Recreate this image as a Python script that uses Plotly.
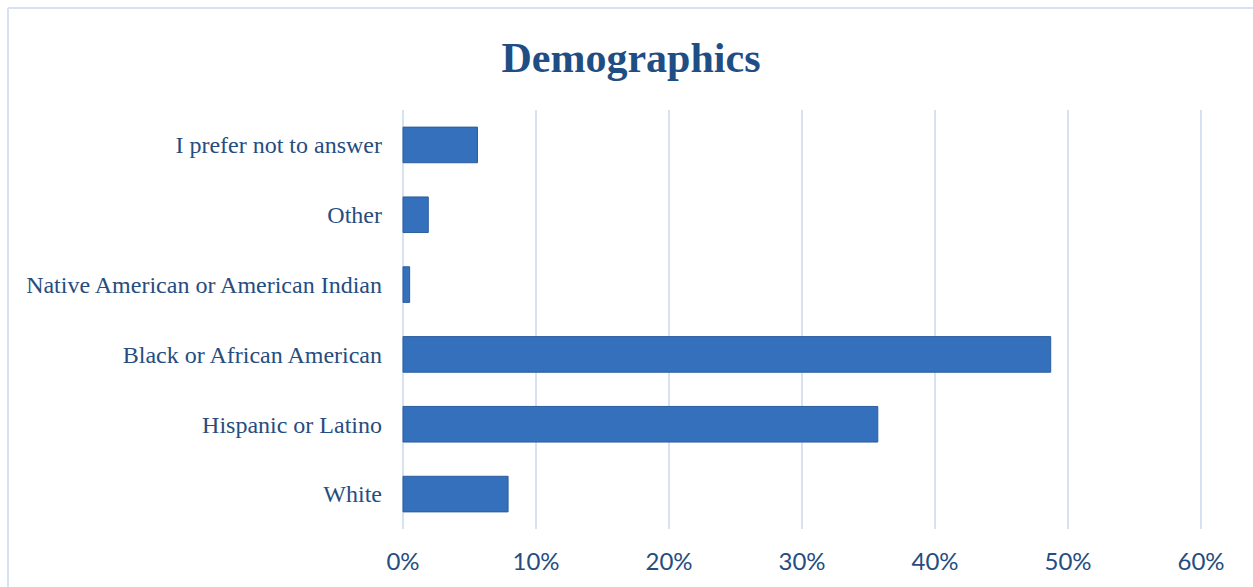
import plotly.graph_objects as go

categories = ["White", "Hispanic or Latino", "Black or African American",
              "Native American or American Indian", "Other", "I prefer not to answer"]
values = [0.079, 0.357, 0.487, 0.005, 0.019, 0.056]
tick_vals = [0, 0.1, 0.2, 0.3, 0.4, 0.5, 0.6]
tick_text = ["0%", "10%", "20%", "30%", "40%", "50%", "60%"]

text_color = "#264D80"
grid_color = "#D6E2F2"

fig = go.Figure()
fig.add_trace(go.Bar(
    y=categories, x=values, orientation="h",
    marker=dict(color="#3470BB", line=dict(color="#2C5D9E", width=1)),
    width=0.51, hoverinfo="x+y",
))

fig.update_layout(
    width=1253, height=587,
    margin=dict(l=401, r=50, t=110, b=58),
    paper_bgcolor="white", plot_bgcolor="white",
    showlegend=False,
    title=dict(text="<b>Demographics</b>", x=0.5036, xref="container", xanchor="center",
               y=0.903, yref="container", yanchor="middle",
               font=dict(family="Liberation Serif", size=42, color="#1F4E85")),
    xaxis=dict(range=[-0.0015, 0.6015], tickvals=tick_vals, ticktext=tick_text,
               showgrid=True, gridcolor=grid_color, gridwidth=2,
               zeroline=False, showline=False, ticks="",
               ticklabelstandoff=16,
               tickfont=dict(family="Lato", size=24, color=text_color)),
    yaxis=dict(showgrid=False, zeroline=False, showline=False, ticks="",
               ticklabelstandoff=18, range=[-0.5, 5.5],
               tickfont=dict(family="Liberation Serif", size=24, color=text_color)),
    shapes=[
        dict(type="line", xref="paper", yref="paper",
             x0=(8 - 401) / 802, x1=(1253 - 401) / 802 + 0.01,
             y0=1 + (110 - 8) / 419, y1=1 + (110 - 8) / 419,
             line=dict(color=grid_color, width=2)),
        dict(type="line", xref="paper", yref="paper",
             x0=(8 - 401) / 802, x1=(8 - 401) / 802,
             y0=1 + (110 - 8) / 419, y1=-(587 - 529) / 419 - 0.01,
             line=dict(color=grid_color, width=2)),
    ],
)

fig.write_html("out.html")
